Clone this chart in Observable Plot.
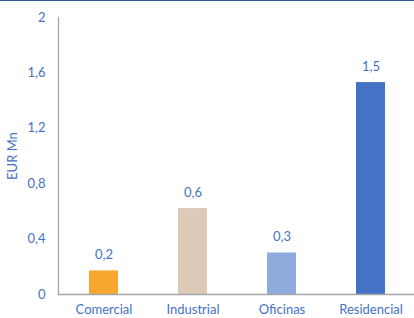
<!DOCTYPE html>
<html>
<head>
<meta charset="utf-8">
<script src="https://cdn.jsdelivr.net/npm/d3@7"></script>
<script src="https://cdn.jsdelivr.net/npm/@observablehq/plot@0.6"></script>
<style>
  html, body { margin: 0; padding: 0; background: #fff; }
  #chart { width: 414px; height: 317px; border-top: 1px solid #2F5597; }
  svg { font-family: Lato, "Open Sans", sans-serif; }
</style>
</head>
<body>
<div id="chart"></div>
<script>
const categories = ["Comercial", "Industrial", "Oficinas", "Residencial"];
const values = [0.17, 0.62, 0.30, 1.53];
const labels = ["0,2", "0,6", "0,3", "1,5"];
const colors = ["#F7A72D", "#DCC9B8", "#8FAADC", "#4472C4"];
const yTicks = [0, 0.4, 0.8, 1.2, 1.6, 2];

const data = categories.map((c, i) => ({cat: c, value: values[i], label: labels[i], color: colors[i]}));
const fmt = d => String(d).replace(".", ",");

const chart = Plot.plot({
  width: 414,
  height: 317,
  marginLeft: 58,
  marginRight: 0,
  marginTop: 16,
  marginBottom: 24,
  style: {fontFamily: "Lato, 'Open Sans', sans-serif", fontSize: "13px", background: "#fff"},
  x: {domain: categories, range: [58, 416], paddingInner: 0.675, paddingOuter: 0.3375, axis: null},
  y: {domain: [0, 2], axis: null},
  marks: [
    Plot.axisX({tickSize: 0, tickPadding: 10, color: "#4472C4", fontSize: 13, label: null}),
    Plot.axisY({ticks: yTicks, tickFormat: fmt, tickSize: 0, tickPadding: 13, color: "#4472C4", fontSize: 13,
      label: "EUR Mn", labelAnchor: "center", labelOffset: 51, labelArrow: "none"}),
    Plot.barY(data, {x: "cat", y: "value", fill: "color"}),
    Plot.frame({anchor: "left", stroke: "#A6A6A6", strokeWidth: 1.3}),
    Plot.ruleY([0], {stroke: "#A6A6A6", strokeWidth: 1.3}),
    Plot.text(data, {x: "cat", y: "value", text: "label", dy: -16, fill: "#4472C4", fontSize: 13})
  ]
});
document.getElementById("chart").appendChild(chart);
</script>
</body>
</html>
